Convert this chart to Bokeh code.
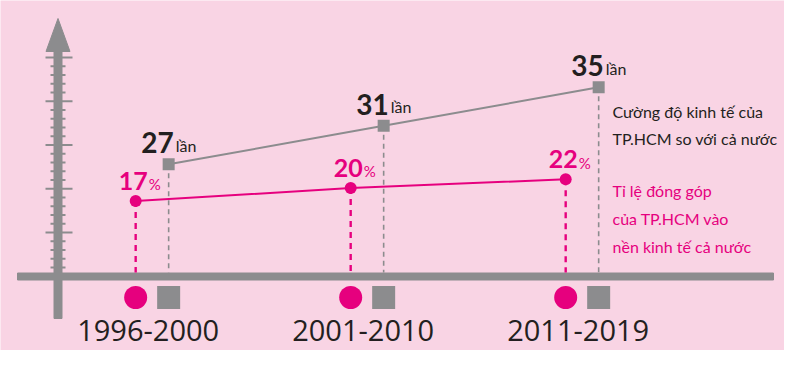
from bokeh.plotting import figure
from bokeh.models import Range1d, ColumnDataSource
from bokeh.transform import dodge
from bokeh.core.properties import value
from bokeh.embed import file_html
from bokeh.resources import INLINE

# ---------------- data ----------------
periods = ["1996-2000", "2001-2010", "2011-2019"]
intensity = [27, 31, 35]          # Cường độ kinh tế (lần)
share = [17, 20, 22]              # Tỉ lệ đóng góp (%)
intensity_unit = "lần"
share_unit = "%"
legend_intensity = ["Cường độ kinh tế của", "TP.HCM so với cả nước"]
legend_share = ["Tỉ lệ đóng góp", "của TP.HCM vào", "nền kinh tế cả nước"]

# ---------------- style ----------------
BG = "#f9d4e4"
GRAY = "#8c8c8e"
PINK = "#e6007e"
DARK = "#231f20"
W, H = 784, 350
GRAY_LO, GRAY_HI = 7.66, 44.02
PINK_LO, PINK_HI = -17.41, 63.19
IDX_LO, IDX_HI = -0.7054, 2.941
DODGE = 0.0767
FONT = value("Lato")
BASE_Y = 272                        # top of horizontal band (px)
SHIFT = 0.38                        # baseline compensation (em)


def px_to_val(y_px, lo, hi):
    return lo + (H - y_px) / H * (hi - lo)


def ty(y_px, fs):
    return y_px - SHIFT * fs


def off(gap, fs):
    return -(gap + SHIFT * fs)


idx = list(range(len(periods)))
src = ColumnDataSource(dict(
    i=idx,
    period=periods,
    inten=intensity,
    share=share,
    inten_lbl=[str(v) for v in intensity],
    share_lbl=[str(v) for v in share],
    inten_unit=[intensity_unit] * len(idx),
    share_unit=[share_unit] * len(idx),
))

p = figure(width=W, height=H, output_backend="svg", toolbar_location=None,
           x_range=Range1d(IDX_LO, IDX_HI), y_range=Range1d(GRAY_LO, GRAY_HI),
           x_axis_location=None, y_axis_location=None, min_border=0,
           background_fill_color=BG, border_fill_color=BG, outline_line_color=None)
p.grid.visible = False
p.extra_x_ranges = {"px": Range1d(0, W)}
p.extra_y_ranges = {"py": Range1d(H, 0), "pink": Range1d(PINK_LO, PINK_HI)}

deco = dict(x_range_name="px", y_range_name="py")

# horizontal band
p.rect(x=395, y=276, width=756, height=7, color=GRAY, **deco)
# vertical arrow axis
p.rect(x=57.5, y=(46 + 318) / 2, width=8, height=318 - 46, color=GRAY, **deco)
p.patch([45.5, 57.5, 69.5], [51, 18, 51], color=GRAY, **deco)
tick_y = [57 + 8.75 * k for k in range(25)]
maj = [k % 5 == 0 for k in range(25)]
p.segment(x0=[45 if m else 50 for m in maj], x1=[72 if m else 65 for m in maj],
          y0=tick_y, y1=tick_y, line_color=GRAY, line_width=2, **deco)

# dashed drop lines
p.segment(x0=dodge("i", DODGE), x1=dodge("i", DODGE), y0="inten",
          y1=px_to_val(BASE_Y, GRAY_LO, GRAY_HI), source=src,
          line_color=GRAY, line_width=1.6, line_dash="5 4")
p.segment(x0=dodge("i", -DODGE), x1=dodge("i", -DODGE), y0="share",
          y1=px_to_val(BASE_Y, PINK_LO, PINK_HI), source=src, y_range_name="pink",
          line_color=PINK, line_width=2.4, line_dash="6 5")

# series lines + markers
p.line(x=dodge("i", DODGE), y="inten", source=src, line_color=GRAY, line_width=2)
p.scatter(x=dodge("i", DODGE), y="inten", source=src, marker="square", size=12,
          fill_color=GRAY, line_color=None)
p.line(x=dodge("i", -DODGE), y="share", source=src, y_range_name="pink",
       line_color=PINK, line_width=2)
p.scatter(x=dodge("i", -DODGE), y="share", source=src, y_range_name="pink",
          marker="circle", size=12, fill_color=PINK, line_color=None)

# value labels
p.text(x=dodge("i", DODGE), y="inten", text="inten_lbl", source=src,
       x_offset=5, y_offset=off(11, 28), text_align="right", text_baseline="alphabetic",
       text_font=FONT, text_font_style="bold", text_font_size="28px", text_color=DARK)
p.text(x=dodge("i", DODGE), y="inten", text="inten_unit", source=src,
       x_offset=7, y_offset=off(13, 16), text_align="left", text_baseline="alphabetic",
       text_font=FONT, text_font_size="16px", text_color=DARK)
p.text(x=dodge("i", -DODGE), y="share", text="share_lbl", source=src, y_range_name="pink",
       x_offset=12, y_offset=off(11, 25), text_align="right", text_baseline="alphabetic",
       text_font=FONT, text_font_style="bold", text_font_size="25px",
       text_color=PINK)
p.text(x=dodge("i", -DODGE), y="share", text="share_unit", source=src, y_range_name="pink",
       x_offset=13, y_offset=off(11, 15), text_align="left", text_baseline="alphabetic",
       text_font=FONT, text_font_size="15px", text_color=PINK)

# markers under the axis + period labels
p.scatter(x=dodge("i", -DODGE), y=297, y_range_name="py", source=src,
          marker="circle", size=23, fill_color=PINK, line_color=None)
p.scatter(x=dodge("i", DODGE), y=297, y_range_name="py", source=src,
          marker="square", size=23, fill_color=GRAY, line_color=None)
p.text(x="i", y=ty(341, 29), y_range_name="py", text="period", source=src, x_offset=-4,
       text_align="center", text_baseline="alphabetic", text_font=value("Open Sans"),
       text_font_size="29px", text_color=DARK)

# side legend texts
p.text(x=612, y=[ty(117, 16), ty(144, 16)], text=legend_intensity, text_align="left",
       text_baseline="alphabetic", text_font=FONT, text_font_size="16px",
       text_color=DARK, **deco)
p.text(x=612, y=[ty(196, 16), ty(224, 16), ty(252, 16)], text=legend_share,
       text_align="left", text_baseline="alphabetic", text_font=FONT,
       text_font_size="16px", text_color=PINK, **deco)

open("out.html", "w").write(file_html(p, INLINE))
